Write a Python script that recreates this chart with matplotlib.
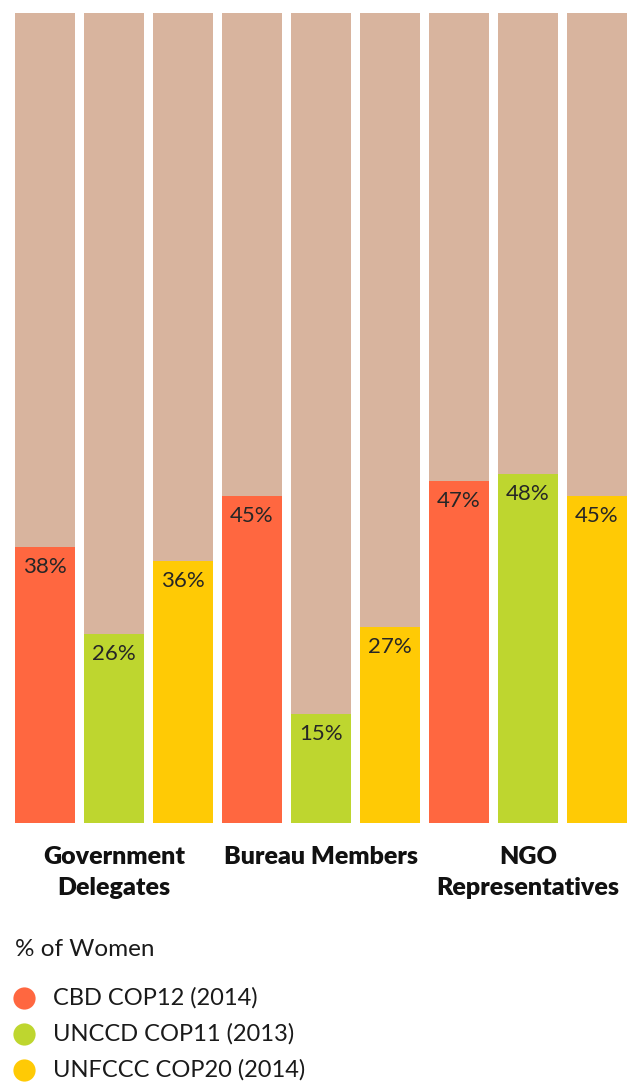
import matplotlib
matplotlib.use("Agg")
import matplotlib.pyplot as plt
from matplotlib.lines import Line2D

groups = ["Government\nDelegates", "Bureau Members", "NGO\nRepresentatives"]
series = ["CBD COP12 (2014)", "UNCCD COP11 (2013)", "UNFCCC COP20 (2014)"]
gov = [38, 26, 36]
bureau = [45, 15, 27]
ngo = [47, 48, 45]
colors = ["#FF6740", "#BED62F", "#FFCA05"]
track = "#D8B49E"
track_top = 111.4

plt.rcParams['font.family'] = ['Lato', 'DejaVu Sans']

fig = plt.figure(figsize=(6.28, 10.84), dpi=100)
ax = fig.add_axes([15/628, (1084-823)/1084, 612/628, 810/1084])

values = gov + bureau + ngo
xs = list(range(len(values)))
bar_colors = colors * 3
w = 60/69
ax.bar(xs, [track_top]*len(xs), width=w, color=track, linewidth=0)
ax.bar(xs, values, width=w, color=bar_colors, linewidth=0)
for x, v in zip(xs, values):
    ax.annotate(f"{v}%", (x, v), xytext=(0, -14.5), textcoords="offset points",
                ha="center", va="center", fontsize=16, color="#262626")

ax.set_xlim(-0.5*w, len(values)-1+0.5*w)
ax.set_ylim(0, track_top)
ax.axis("off")

for i, g in enumerate(groups):
    ax.annotate(g, (3*i+1, 0), xytext=(0, -16.5), textcoords="offset points",
                ha="center", va="top", fontsize=18, fontweight="heavy",
                color="#111111", linespacing=1.5)

fig.text(15/628, 1-950/1084, "% of Women", ha="left", va="center",
         fontsize=17.5, color="#1a1a1a")
for i, (s, c) in enumerate(zip(series, colors)):
    y = 1 - (998 + i*36)/1084
    fig.add_artist(Line2D([24/628], [y], marker="o", markersize=16,
                          color=c, markeredgewidth=0, transform=fig.transFigure))
    fig.text(53/628, y, s, ha="left", va="center", fontsize=17, color="#1a1a1a")

fig.savefig("out.png", dpi=100)
